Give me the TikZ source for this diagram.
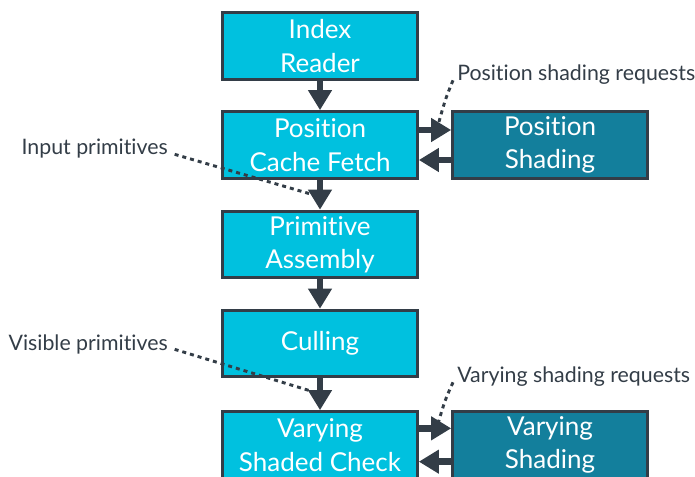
\documentclass[tikz,border=0pt]{standalone}
\usepackage{fontspec}
\setmainfont{Lato}[Ligatures=NoCommon]
\usetikzlibrary{arrows.meta}
\definecolor{stagecol}{HTML}{00C1DF}
\definecolor{shadecol}{HTML}{137F9C}
\definecolor{inkcol}{HTML}{333D47}

\begin{document}
\begin{tikzpicture}[x=0.75pt, y=-0.75pt,
        stage/.style={draw=inkcol, line width=2.2pt, fill=stagecol, text=white,
            minimum width=146pt, minimum height=50pt, inner sep=0pt,
            align=center, font=\fontsize{19.5}{25}\selectfont},
        shader/.style={stage, fill=shadecol},
        flow/.style={draw=inkcol, line width=5pt, -{Triangle[width=17pt,length=15pt]}},
        note/.style={text=inkcol, font=\fontsize{16}{19}\selectfont, inner sep=0pt},
        hint/.style={draw=inkcol, line width=2.2pt, dash pattern=on 3pt off 3pt}]
        \useasboundingbox (0,0) rectangle (695,477);

        \node[stage] (ir) at (320,46) {Index\\Reader};
        \node[stage] (pcf) at (320,145) {Position\\Cache Fetch};
        \node[stage] (pa) at (320,244.5) {Primitive\\Assembly};
        \node[stage] (cull) at (320,343.5) {Culling};
        \node[stage] (vsc) at (320,445) {Varying\\Shaded Check};
        \node[shader] (ps) at (550,145) {Position\\Shading};
        \node[shader] (vs) at (550,445) {Varying\\Shading};

        \draw[flow] (ir) -- (pcf);
        \draw[flow] (pcf) -- (pa);
        \draw[flow] (pa) -- (cull);
        \draw[flow] (cull) -- (vsc);
        \draw[flow] ([yshift=11.25pt]pcf.east) -- ([yshift=11.25pt]ps.west);
        \draw[flow] ([yshift=-11.25pt]ps.west) -- ([yshift=-11.25pt]pcf.east);
        \draw[flow] ([yshift=12.5pt]vsc.east) -- ([yshift=12.5pt]vs.west);
        \draw[flow] ([yshift=-12.5pt]vs.west) -- ([yshift=-12.5pt]vsc.east);

        \node[note, anchor=west] (psreq) at (457,75) {Position shading requests};
        \node[note, anchor=east] (inprim) at (168,149) {Input primitives};
        \node[note, anchor=east] (visprim) at (168,344) {Visible primitives};
        \node[note, anchor=west] (vsreq) at (457,377) {Varying shading requests};

        \coordinate (psreqend) at (437,129);
        \coordinate (inprimend) at (314,195);
        \coordinate (visprimend) at (314,392);
        \coordinate (vsreqend) at (437,427);

        \draw[hint] ([xshift=-3pt,yshift=-4pt]psreq.west) .. controls (445,100) .. (psreqend);
        \fill[inkcol] (psreqend) circle (3pt);
        \draw[hint] ([xshift=5pt,yshift=-4pt]inprim.east) -- (inprimend);
        \draw[hint] ([xshift=5pt,yshift=-4pt]visprim.east) -- (visprimend);
        \draw[hint] ([xshift=-3pt,yshift=-4pt]vsreq.west) .. controls (445,400) .. (vsreqend);
\end{tikzpicture}
\end{document}
